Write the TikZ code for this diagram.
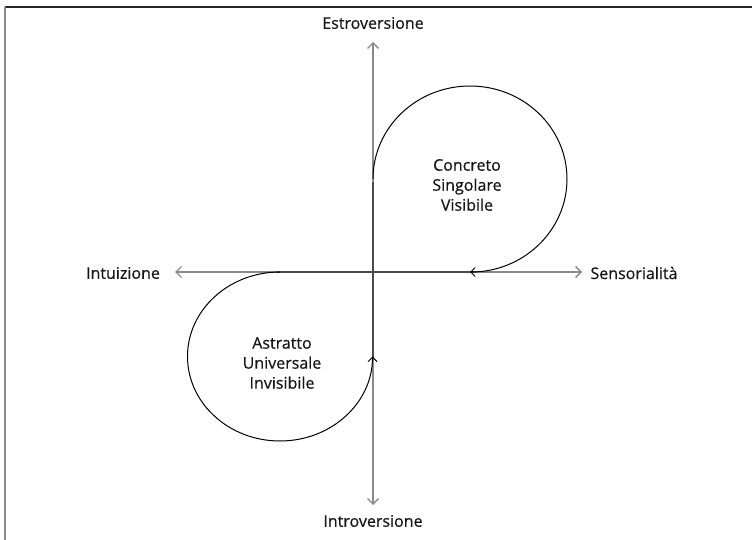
\documentclass[tikz,border=0pt]{standalone}
\usepackage{fontspec}
\setmainfont{Open Sans}[FakeBold=0.5]
\usetikzlibrary{arrows.meta}
\definecolor{axisgray}{HTML}{8A8A8A}
\definecolor{thickgray}{HTML}{4A4A4A}
\definecolor{ink}{HTML}{161616}
\begin{document}
\begin{tikzpicture}[x=1pt,y=-1pt,
  label/.style={text=ink, font=\fontsize{16}{20}\selectfont, inner sep=0pt, align=center},
  axis/.style={draw=axisgray, line width=1.1pt, -{Straight Barb[length=5.5pt,width=11pt,line width=1.3pt]}},
  spine/.style={draw=thickgray, line width=2.6pt},
  loop/.style={draw=black, line width=1pt, -{Straight Barb[length=4.5pt,width=9pt]}},
]
\useasboundingbox (0,0) rectangle (752,540);

% frame edges
\draw[line width=1.4pt, draw=black!85] (5,7) -- (752,7);
\draw[line width=1.6pt, draw=axisgray] (5,7) -- (5,540);

% pole labels
\node[label] (estro)  at (373,23)  {Estroversione};
\node[label] (intro)  at (373,521) {Introversione};
\node[label] (intu)   at (123,273) {Intuizione};
\node[label] (senso)  at (634,273) {Sensorialità};

% region labels
\node[label] (concreto) at (467,185) {Concreto\\Singolare\\Visibile};
\node[label] (astratto) at (282,363) {Astratto\\Universale\\Invisibile};

% axis ends and centre
\coordinate (O)  at (373,272);
\coordinate (up) at (373,42);
\coordinate (dn) at (373,505);
\coordinate (lt) at (175,272);
\coordinate (rt) at (582,272);

\draw[axis] (O) -- (up);
\draw[axis] (O) -- (dn);
\draw[axis] (O) -- (lt);
\draw[axis] (O) -- (rt);

% thick spines
\coordinate (vs) at (373,182);
\coordinate (ve) at (373,357);
\coordinate (hs) at (277,272);
\coordinate (he) at (476,272);
\draw[spine] (vs) -- (ve);
\draw[spine] (hs) -- (he);

% loops
\coordinate (ua) at (373,179);
\coordinate (la) at (280,272);
\draw[loop] (ua) arc[start angle=180, end angle=450, x radius=97, y radius=93];
\draw[loop] (la) arc[start angle=270, end angle=0, x radius=92.5, y radius=84.5];
\end{tikzpicture}
\end{document}
